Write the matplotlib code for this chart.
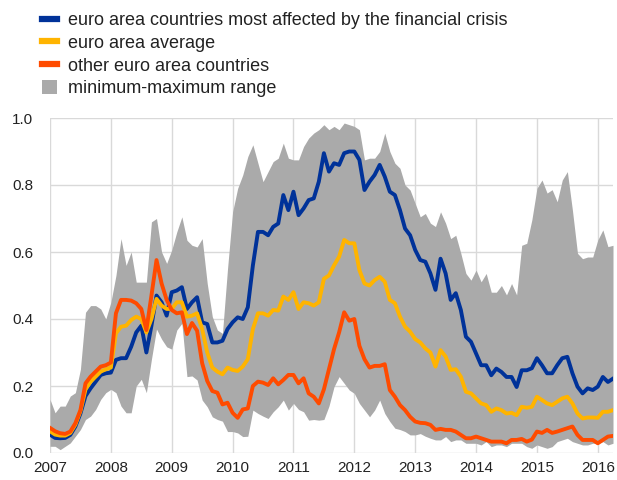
import numpy as np
import matplotlib
matplotlib.use('Agg')
import matplotlib.pyplot as plt
from matplotlib.lines import Line2D
from matplotlib.patches import Patch

plt.rcParams['font.family'] = ['Liberation Sans', 'DejaVu Sans']

# monthly observations, Jan 2007 - Apr 2016
start_year = 2007

most_affected = [
    0.055, 0.045, 0.044, 0.045, 0.054, 0.079, 0.118, 0.170, 0.193, 0.213, 0.233, 0.238,
    0.240, 0.278, 0.283, 0.283, 0.317, 0.360, 0.380, 0.300, 0.380, 0.470, 0.450, 0.410,
    0.480, 0.485, 0.495, 0.430, 0.450, 0.465, 0.390, 0.385, 0.330, 0.330, 0.335, 0.370,
    0.390, 0.405, 0.400, 0.435, 0.560, 0.660, 0.660, 0.650, 0.675, 0.685, 0.770, 0.725,
    0.780, 0.710, 0.730, 0.755, 0.760, 0.810, 0.895, 0.840, 0.865, 0.860, 0.895, 0.900,
    0.900, 0.875, 0.785, 0.810, 0.830, 0.860, 0.825, 0.780, 0.770, 0.725, 0.670, 0.650,
    0.606, 0.576, 0.571, 0.536, 0.487, 0.580, 0.536, 0.457, 0.477, 0.427, 0.347, 0.332,
    0.297, 0.262, 0.262, 0.232, 0.252, 0.242, 0.227, 0.227, 0.197, 0.247, 0.247, 0.253,
    0.283, 0.262, 0.238, 0.238, 0.262, 0.283, 0.287, 0.238, 0.198, 0.178, 0.193, 0.188,
    0.198, 0.227, 0.212, 0.222,
]

ea_average = [
    0.065, 0.055, 0.052, 0.052, 0.060, 0.085, 0.125, 0.190, 0.213, 0.228, 0.243, 0.250,
    0.255, 0.357, 0.377, 0.380, 0.397, 0.407, 0.400, 0.360, 0.400, 0.460, 0.440, 0.430,
    0.430, 0.450, 0.450, 0.407, 0.410, 0.417, 0.370, 0.300, 0.255, 0.243, 0.235, 0.255,
    0.248, 0.245, 0.258, 0.280, 0.370, 0.417, 0.417, 0.410, 0.427, 0.425, 0.467, 0.457,
    0.480, 0.430, 0.450, 0.447, 0.440, 0.450, 0.520, 0.530, 0.560, 0.586, 0.636, 0.626,
    0.626, 0.546, 0.506, 0.500, 0.516, 0.526, 0.511, 0.457, 0.447, 0.407, 0.377, 0.362,
    0.340, 0.330, 0.312, 0.300, 0.258, 0.307, 0.288, 0.248, 0.250, 0.228, 0.183, 0.178,
    0.163, 0.148, 0.143, 0.123, 0.133, 0.128, 0.118, 0.120, 0.113, 0.138, 0.135, 0.138,
    0.168, 0.158, 0.148, 0.143, 0.153, 0.163, 0.168, 0.148, 0.118, 0.103, 0.106, 0.106,
    0.105, 0.123, 0.123, 0.128,
]

other_countries = [
    0.075, 0.065, 0.059, 0.057, 0.064, 0.089, 0.128, 0.208, 0.228, 0.243, 0.258, 0.262,
    0.270, 0.417, 0.457, 0.457, 0.455, 0.447, 0.430, 0.367, 0.470, 0.576, 0.506, 0.457,
    0.427, 0.417, 0.420, 0.355, 0.388, 0.365, 0.268, 0.215, 0.185, 0.180, 0.145, 0.150,
    0.120, 0.105, 0.130, 0.133, 0.200, 0.213, 0.210, 0.203, 0.223, 0.205, 0.218, 0.233,
    0.233, 0.208, 0.223, 0.178, 0.168, 0.148, 0.190, 0.250, 0.310, 0.360, 0.420, 0.395,
    0.400, 0.320, 0.280, 0.255, 0.260, 0.260, 0.265, 0.188, 0.168, 0.143, 0.128, 0.108,
    0.094, 0.090, 0.089, 0.084, 0.069, 0.072, 0.069, 0.069, 0.064, 0.054, 0.044, 0.044,
    0.049, 0.044, 0.039, 0.034, 0.034, 0.034, 0.029, 0.039, 0.039, 0.042, 0.034, 0.040,
    0.064, 0.060, 0.069, 0.060, 0.064, 0.069, 0.074, 0.079, 0.054, 0.039, 0.039, 0.039,
    0.029, 0.039, 0.049, 0.051,
]

range_max = [
    0.16, 0.12, 0.14, 0.14, 0.17, 0.18, 0.25, 0.42, 0.44, 0.44, 0.43, 0.40,
    0.45, 0.53, 0.64, 0.56, 0.60, 0.51, 0.51, 0.51, 0.69, 0.70, 0.60, 0.566,
    0.606, 0.66, 0.705, 0.635, 0.62, 0.615, 0.64, 0.506, 0.407, 0.367, 0.357, 0.55,
    0.72, 0.79, 0.83, 0.885, 0.92, 0.865, 0.81, 0.84, 0.87, 0.88, 0.925, 0.88,
    0.875, 0.875, 0.915, 0.94, 0.955, 0.965, 0.98, 0.965, 0.975, 0.965, 0.985, 0.98,
    0.975, 0.965, 0.875, 0.88, 0.88, 0.90, 0.955, 0.90, 0.865, 0.85, 0.80, 0.785,
    0.745, 0.705, 0.715, 0.686, 0.676, 0.72, 0.686, 0.64, 0.65, 0.596, 0.536, 0.516,
    0.546, 0.511, 0.536, 0.48, 0.48, 0.50, 0.472, 0.506, 0.472, 0.62, 0.626, 0.696,
    0.79, 0.815, 0.776, 0.786, 0.75, 0.815, 0.84, 0.725, 0.596, 0.58, 0.585, 0.585,
    0.636, 0.666, 0.616, 0.62,
]

range_min = [
    0.02, 0.02, 0.01, 0.02, 0.03, 0.05, 0.07, 0.10, 0.11, 0.13, 0.16, 0.18,
    0.19, 0.18, 0.14, 0.12, 0.12, 0.20, 0.22, 0.18, 0.28, 0.37, 0.34, 0.317,
    0.31, 0.367, 0.387, 0.228, 0.23, 0.218, 0.158, 0.138, 0.108, 0.10, 0.095, 0.064,
    0.064, 0.06, 0.049, 0.05, 0.128, 0.118, 0.11, 0.103, 0.123, 0.138, 0.158, 0.128,
    0.148, 0.13, 0.123, 0.098, 0.10, 0.098, 0.10, 0.14, 0.198, 0.228, 0.208, 0.188,
    0.178, 0.148, 0.128, 0.108, 0.128, 0.158, 0.118, 0.094, 0.074, 0.07, 0.064, 0.054,
    0.054, 0.058, 0.05, 0.044, 0.039, 0.039, 0.049, 0.034, 0.039, 0.039, 0.029, 0.029,
    0.029, 0.024, 0.034, 0.019, 0.024, 0.024, 0.019, 0.029, 0.029, 0.029, 0.019, 0.014,
    0.024, 0.019, 0.014, 0.019, 0.034, 0.039, 0.044, 0.034, 0.029, 0.024, 0.024, 0.029,
    0.029, 0.034, 0.024, 0.029,
]

labels = ['euro area countries most affected by the financial crisis',
          'euro area average',
          'other euro area countries',
          'minimum-maximum range']
colors = ['#003299', '#ffb400', '#ff4b00', '#aaaaaa']

x = start_year + np.arange(len(most_affected)) / 12.0

fig = plt.figure(figsize=(6.17, 4.8), dpi=100)
ax = fig.add_axes([50 / 617, 27 / 480, 563 / 617, 335 / 480])

ax.fill_between(x, range_min, range_max, color=colors[3], linewidth=0, zorder=2)
ax.plot(x, most_affected, color=colors[0], lw=2.8, zorder=3, solid_joinstyle='round')
ax.plot(x, ea_average, color=colors[1], lw=2.8, zorder=4, solid_joinstyle='round')
ax.plot(x, other_countries, color=colors[2], lw=2.8, zorder=5, solid_joinstyle='round')

ax.set_xlim(start_year, x[-1])
ax.set_ylim(0, 1.0)
ax.set_xticks(range(2007, 2017))
ax.set_yticks(np.arange(0, 1.01, 0.2))
ax.set_yticklabels(['%.1f' % v for v in np.arange(0, 1.01, 0.2)])
ax.grid(True, color='#d9d9d9', linewidth=1.0, zorder=0)
ax.set_axisbelow(True)
for s in ax.spines.values():
    s.set_visible(False)
ax.tick_params(axis='both', length=0, labelsize=11, colors='#222222')
ax.tick_params(axis='y', pad=12)
ax.tick_params(axis='x', pad=6)

handles = [Line2D([], [], color=colors[0], lw=4.5),
           Line2D([], [], color=colors[1], lw=4.5),
           Line2D([], [], color=colors[2], lw=4.5),
           Patch(facecolor=colors[3], edgecolor='none')]
fig.legend(handles, labels, loc='upper left', bbox_to_anchor=(42 / 617, 1 - 12 / 480),
           frameon=False, fontsize=13, handlelength=0.85, handleheight=0.75,
           handletextpad=0.6, labelspacing=0.32, borderpad=0, borderaxespad=0,
           labelcolor='#222222')

fig.savefig('out.png', dpi=100)
